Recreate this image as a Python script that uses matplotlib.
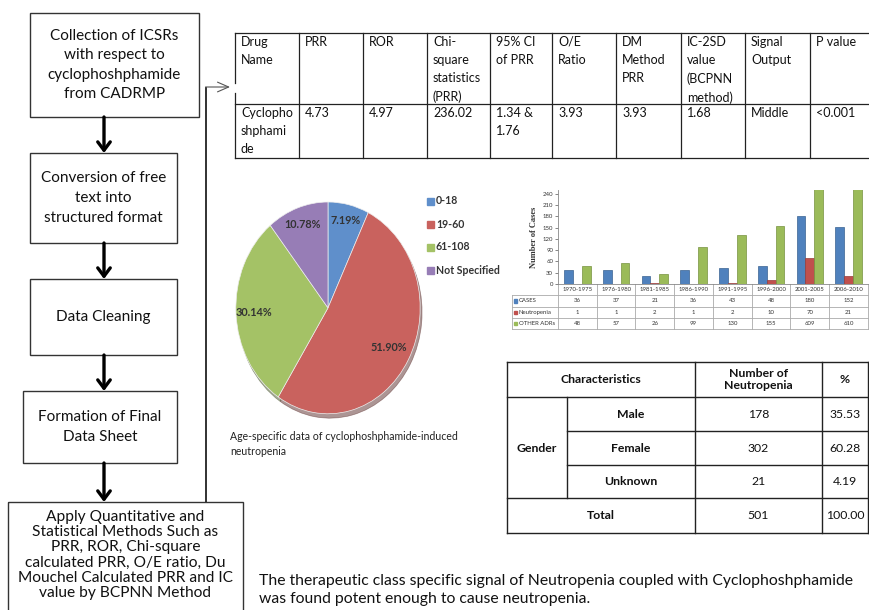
import matplotlib
matplotlib.use("Agg")
import matplotlib.pyplot as plt
import matplotlib.transforms as mtransforms
from matplotlib.patches import Rectangle
import numpy as np

plt.rcParams['font.family'] = ['Lato', 'DejaVu Sans']

# ---------------- data ----------------
flow_steps = [
    "Collection of ICSRs\nwith respect to\ncyclophoshphamide\nfrom CADRMP",
    "Conversion of free\ntext into\nstructured format",
    "Data Cleaning",
    "Formation of Final\nData Sheet",
    "Apply Quantitative and\nStatistical Methods Such as\nPRR, ROR, Chi-square\ncalculated PRR, O/E ratio, Du\nMouchel Calculated PRR and IC\nvalue by BCPNN Method",
]

signal_headers = ["Drug\nName", "PRR", "ROR", "Chi-\nsquare\nstatistics\n(PRR)", "95% CI\nof PRR",
                  "O/E\nRatio", "DM\nMethod\nPRR", "IC-2SD\nvalue\n(BCPNN\nmethod)", "Signal\nOutput", "P value"]
signal_values = ["Cyclopho\nshphami\nde", "4.73", "4.97", "236.02", "1.34 &\n1.76",
                 "3.93", "3.93", "1.68", "Middle", "<0.001"]

age_groups = ["0-18", "19-60", "61-108", "Not Specified"]
age_pct = [7.19, 51.90, 30.14, 10.78]
age_pct_labels = ["7.19%", "51.90%", "30.14%", "10.78%"]

periods = ["1970-1975", "1976-1980", "1981-1985", "1986-1990",
           "1991-1995", "1996-2000", "2001-2005", "2006-2010"]
cases = [36, 37, 21, 36, 43, 48, 180, 152]
neutropenia = [1, 1, 2, 1, 2, 10, 70, 21]
other_adrs = [48, 57, 26, 99, 130, 155, 609, 610]
series_names = ["CASES", "Neutropenia", "OTHER ADRs"]
y_ticks = [0, 30, 60, 90, 120, 150, 180, 210, 240]

gender_labels = ["Male", "Female", "Unknown"]
gender_counts = ["178", "302", "21"]
gender_pct = ["35.53", "60.28", "4.19"]
total_count = "501"
total_pct = "100.00"

conclusion = ("The therapeutic class specific signal of Neutropenia coupled with Cyclophoshphamide\n"
              "was found potent enough to cause neutropenia.")
pie_caption = "Age-specific data of cyclophoshphamide-induced\nneutropenia"

# ---------------- figure / canvas ----------------
W, H = 870, 610
fig = plt.figure(figsize=(W / 100, H / 100), dpi=100)
fig.patch.set_facecolor("white")
cv = fig.add_axes([0, 0, 1, 1])
cv.set_xlim(0, W)
cv.set_ylim(H, 0)
cv.axis("off")

# ---------------- flowchart ----------------
boxes = [(30, 13, 199, 117), (30, 153, 177, 243), (30, 279, 177, 355),
         (23, 391, 177, 463), (8, 502, 243, 614)]
spacing = [1.5, 1.5, 1.5, 1.5, 1.12]
sizes = [11, 11, 11, 11, 11.2]
for (x0, y0, x1, y1), txt, ls, fsz in zip(boxes, flow_steps, spacing, sizes):
    cv.add_patch(Rectangle((x0, y0), x1 - x0, y1 - y0, fill=False, ec="#333333", lw=1.0))
    cy = (y0 + y1) / 2 if y1 < 600 else 555
    cv.text((x0 + x1) / 2, cy, txt, ha="center", va="center", fontsize=fsz,
            linespacing=ls, color="#111111")

for i in range(4):
    yb = boxes[i][3]
    yt = boxes[i + 1][1]
    cv.annotate("", xy=(104, yt), xytext=(104, yb),
                arrowprops=dict(arrowstyle="->,head_length=0.6,head_width=0.45",
                                lw=2.4, color="black", shrinkA=0, shrinkB=0,
                                mutation_scale=10))

# connector from last box to signal table
cv.plot([206, 206], [502, 87], color="#222222", lw=1.3, solid_capstyle="butt")
cv.annotate("", xy=(230, 87), xytext=(205.5, 87),
            arrowprops=dict(arrowstyle="->,head_length=0.8,head_width=0.35",
                            lw=0.8, color="#555555", shrinkA=0, shrinkB=0,
                            mutation_scale=10))

# ---------------- signal table ----------------
col_x = [235, 299, 363, 427, 490, 552, 616, 681, 745, 810, 872]
row_y = [33, 104, 158]
lc = "#222222"
for x in col_x[1:-1]:
    cv.plot([x, x], [row_y[0], row_y[2]], color=lc, lw=0.9)
cv.plot([col_x[0], col_x[0]], [row_y[0], 83], color=lc, lw=0.9)
cv.plot([col_x[0], col_x[0]], [93, row_y[2]], color=lc, lw=0.9)
for y in row_y:
    cv.plot([col_x[0], col_x[-1]], [y, y], color=lc, lw=0.9)
for j, (hd, val) in enumerate(zip(signal_headers, signal_values)):
    cv.text(col_x[j] + 6, 36, hd, ha="left", va="top", fontsize=9.0, linespacing=1.62, color="#111111")
    cv.text(col_x[j] + 6, 107, val, ha="left", va="top", fontsize=9.0, linespacing=1.62, color="#111111")

# ---------------- pie chart ----------------
pie_colors = ["#5F8FCB", "#C9625E", "#A4C266", "#977DB6"]
pl, pt, pr, pb = 234, 202, 422, 418
pax = fig.add_axes([pl / W, 1 - pb / H, (pr - pl) / W, (pb - pt) / H])
wedges, _ = pax.pie(age_pct, colors=pie_colors, startangle=90, counterclock=False,
                    radius=1.0, wedgeprops=dict(edgecolor="#EEEEEE", linewidth=0.5),
                    shadow={"ox": 0.015, "oy": -0.03, "shade": 0.55})
pax.set_aspect("auto")
pax.set_xlim(-1.02, 1.02)
pax.set_ylim(-1.04, 1.0)
label_r = [0.85, 0.76, 0.80, 0.83]
for w, lab, r in zip(wedges, age_pct_labels, label_r):
    ang = np.deg2rad((w.theta1 + w.theta2) / 2)
    pax.text(r * np.cos(ang), r * np.sin(ang), lab, ha="center", va="center",
             fontsize=7.8, fontweight="bold", color="#333333")

# legend
for k, (name, c) in enumerate(zip(age_groups, pie_colors)):
    yy = [201, 224, 247, 270][k]
    cv.add_patch(Rectangle((427, yy - 3.5), 7, 7, color=c))
    cv.text(436, yy, name, ha="left", va="center", fontsize=7.6, fontweight="bold", color="#333333")

cv.text(230, 444, pie_caption, ha="left", va="center", fontsize=7.6, linespacing=1.4, color="#222222")

# ---------------- bar chart ----------------
bl, bt, br, bb = 558, 190, 868, 284
bax = fig.add_axes([bl / W, 1 - bb / H, (br - bl) / W, (bb - bt) / H])
bar_colors = ["#4F81BD", "#C0504D", "#9BBB59"]
edge_colors = ["#3A6391", "#963C3A", "#76923F"]
xs = np.arange(len(periods))
bw = 0.23
for k, (vals, c, ec) in enumerate(zip([cases, neutropenia, other_adrs], bar_colors, edge_colors)):
    bax.bar(xs + (k - 1) * bw, vals, width=bw, color=c, edgecolor=ec, linewidth=0.5)
bax.set_xlim(-0.5, len(periods) - 0.5)
bax.set_ylim(0, 250)
bax.set_yticks(y_ticks)
bax.set_yticklabels([str(t) for t in y_ticks], fontsize=4.3, color="#333333")
bax.tick_params(axis="y", length=2, width=0.5, pad=1.5, colors="#555555", labelcolor="#333333")
bax.set_xticks(xs)
bax.set_xticklabels(periods, fontsize=4.3, color="#333333")
bax.tick_params(axis="x", length=0, pad=2)
for s in ["top", "right"]:
    bax.spines[s].set_visible(False)
bax.spines["left"].set_linewidth(0.6)
bax.spines["left"].set_color("#888888")
bax.spines["bottom"].set_linewidth(0.6)
bax.spines["bottom"].set_color("#888888")
bax.set_ylabel("Number of Cases", fontsize=6, family="Liberation Serif", fontweight="bold",
               labelpad=3, color="#333333")

# data table under the bar chart (x from bar data coords, y in canvas pixels)
tr = mtransforms.blended_transform_factory(bax.transData, cv.transData)
trow = [295, 307, 318, 329]
tcol = "#AAAAAA"
for y in trow:
    cv.plot([512, 868], [y, y], color=tcol, lw=0.6)
cv.plot([512, 512], [trow[0], trow[-1]], color=tcol, lw=0.6)
for b in np.arange(-0.5, len(periods)):
    cv.plot([b, b], [284, trow[-1]], color=tcol, lw=0.6, transform=tr)
for k, (name, c, vals) in enumerate(zip(series_names, bar_colors, [cases, neutropenia, other_adrs])):
    ym = (trow[k] + trow[k + 1]) / 2
    cv.add_patch(Rectangle((514, ym - 1.6), 3.2, 3.2, color=c))
    cv.text(519, ym, name, ha="left", va="center", fontsize=4.3, color="#333333")
    for i, v in enumerate(vals):
        cv.text(i, ym, str(v), ha="center", va="center", fontsize=4.3, color="#333333", transform=tr)

# ---------------- gender table ----------------
gx = [507, 567, 695, 822, 868]
gy = [362, 397, 431, 465, 498, 533]
for y in [gy[0], gy[1], gy[4], gy[5]]:
    cv.plot([gx[0], gx[-1]], [y, y], color=lc, lw=1.0)
for y in [gy[2], gy[3]]:
    cv.plot([gx[1], gx[-1]], [y, y], color=lc, lw=1.0)
for x in [gx[0], gx[2], gx[3], gx[4]]:
    cv.plot([x, x], [gy[0], gy[5]], color=lc, lw=1.0)
cv.plot([gx[1], gx[1]], [gy[1], gy[4]], color=lc, lw=1.0)
fs = 8.8
cv.text((gx[0] + gx[2]) / 2, (gy[0] + gy[1]) / 2, "Characteristics", ha="center", va="center",
        fontsize=fs, fontweight="bold", color="#111111")
cv.text((gx[2] + gx[3]) / 2, (gy[0] + gy[1]) / 2, "Number of\nNeutropenia", ha="center", va="center",
        fontsize=fs, fontweight="bold", color="#111111", linespacing=1.1)
cv.text((gx[3] + gx[4]) / 2, (gy[0] + gy[1]) / 2, "%", ha="center", va="center",
        fontsize=fs, fontweight="bold", color="#111111")
cv.text((gx[0] + gx[1]) / 2, (gy[2] + gy[3]) / 2, "Gender", ha="center", va="center",
        fontsize=fs, fontweight="bold", color="#111111")
for r, (g, n, p) in enumerate(zip(gender_labels, gender_counts, gender_pct)):
    ym = (gy[r + 1] + gy[r + 2]) / 2
    cv.text((gx[1] + gx[2]) / 2, ym, g, ha="center", va="center", fontsize=fs, fontweight="bold", color="#111111")
    cv.text((gx[2] + gx[3]) / 2, ym, n, ha="center", va="center", fontsize=fs, color="#111111")
    cv.text((gx[3] + gx[4]) / 2, ym, p, ha="center", va="center", fontsize=fs, color="#111111")
ym = (gy[4] + gy[5]) / 2
cv.text((gx[0] + gx[2]) / 2, ym, "Total", ha="center", va="center", fontsize=fs, fontweight="bold", color="#111111")
cv.text((gx[2] + gx[3]) / 2, ym, total_count, ha="center", va="center", fontsize=fs, color="#111111")
cv.text((gx[3] + gx[4]) / 2, ym, total_pct, ha="center", va="center", fontsize=fs, color="#111111")

# ---------------- conclusion ----------------
cv.text(259, 590, conclusion, ha="left", va="center", fontsize=11.3, linespacing=1.28, color="#111111")

fig.savefig("out.png", dpi=100, facecolor="white")
